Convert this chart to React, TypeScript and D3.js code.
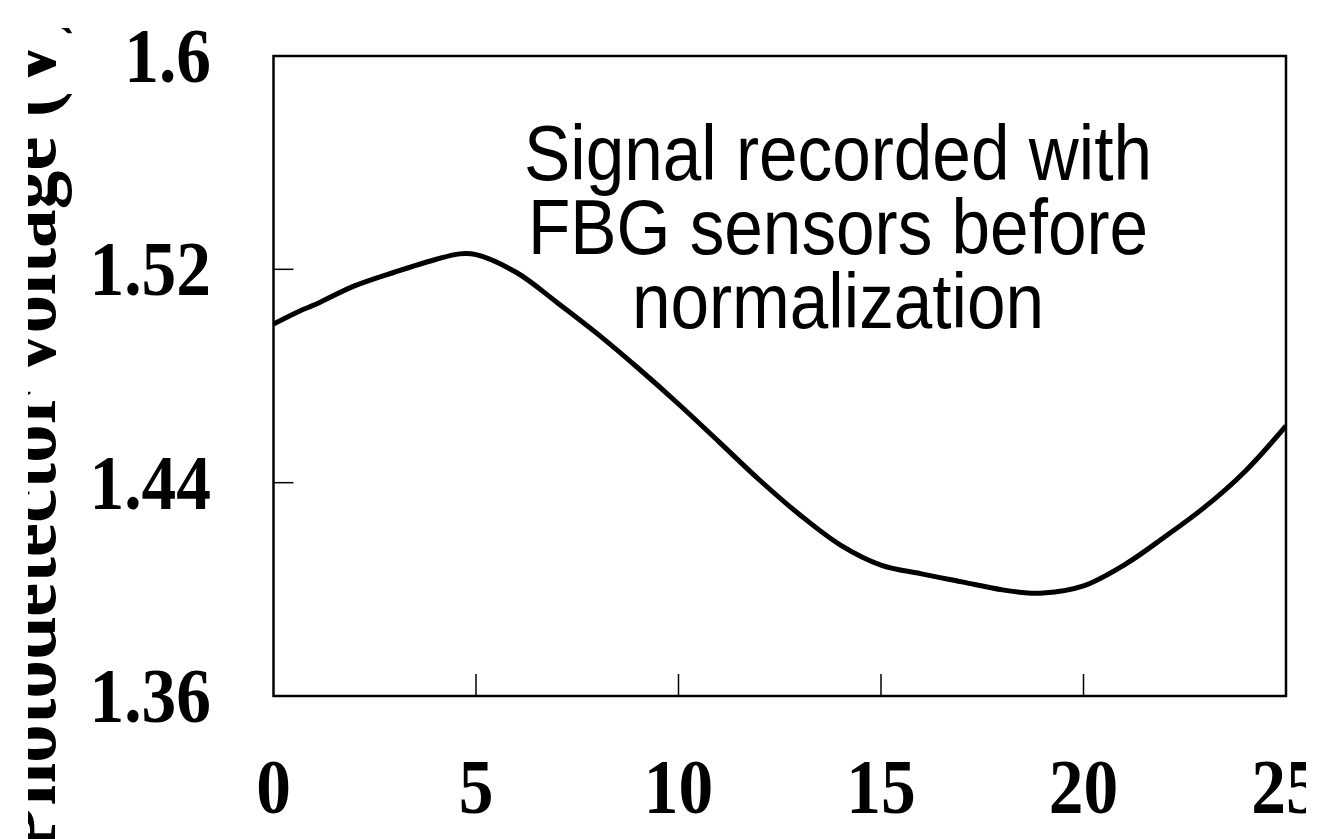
import React from "react";
import * as d3 from "d3";

const timeValues: number[] = [0, 0.65, 1, 2, 3, 4, 4.6, 5, 6, 7, 8, 9, 10, 11, 12, 13, 14, 15, 16, 17, 18, 18.5, 19, 20, 21, 22, 23, 24, 25];
const voltageValues: number[] = [1.4995, 1.5044, 1.5066, 1.5138, 1.519, 1.5237, 1.5258, 1.5255, 1.5188, 1.5076, 1.4958, 1.483, 1.4695, 1.4553, 1.441, 1.4279, 1.4166, 1.4091, 1.4058, 1.4028, 1.3998, 1.3988, 1.3986, 1.4013, 1.4091, 1.4196, 1.4309, 1.4444, 1.4613];
const xTicks: number[] = [0, 5, 10, 15, 20, 25];
const yTicks: number[] = [1.36, 1.44, 1.52, 1.6];
const yTickLabels: string[] = ["1.36", "1.44", "1.52", "1.6"];
const yTitle = "Photodetector voltage (V)";
const annotationLines: string[] = ["Signal recorded with", "FBG sensors before", "normalization"];

const W = 1318;
const H = 839;
const left = 273.5;
const right = 1286;
const top = 56;
const bottom = 696;

export default function App() {
  const x = d3.scaleLinear().domain([0, 25]).range([left, right]);
  const y = d3.scaleLinear().domain([1.36, 1.6]).range([bottom, top]);
  const pts: [number, number][] = timeValues.map((t, i) => [t, voltageValues[i]]);
  const line = d3
    .line<[number, number]>()
    .x((d) => x(d[0]))
    .y((d) => y(d[1]))
    .curve(d3.curveCatmullRom.alpha(0.5));
  const serif = "'Liberation Serif', 'Times New Roman', serif";
  const sans = "'Liberation Sans', Arial, sans-serif";
  const sx = 0.89;
  return (
    <svg width={W} height={H} style={{ position: "absolute", left: 0, top: 0, background: "#fff" }}>
      <defs>
        <clipPath id="titleClip">
          <rect x={28} y={28} width={200} height={H} />
        </clipPath>
        <clipPath id="pageClip">
          <rect x={0} y={0} width={1306} height={H} />
        </clipPath>
        <clipPath id="plotClip">
          <rect x={left} y={top} width={right - left} height={bottom - top} />
        </clipPath>
      </defs>
      <rect x={0} y={0} width={W} height={H} fill="#fff" />
      {/* y axis title */}
      <g clipPath="url(#titleClip)">
        <text
          transform={`translate(55, 853) rotate(-90)`}
          textAnchor="start"
          textLength={843}
          lengthAdjust="spacingAndGlyphs"
          fontFamily={serif}
          fontWeight="bold"
          fontSize={80}
          fill="#000"
        >
          {yTitle}
        </text>
      </g>
      {/* data line */}
      <path d={line(pts) || ""} fill="none" stroke="#000" strokeWidth={5} strokeLinejoin="round" clipPath="url(#plotClip)" />
      {/* ticks */}
      {yTicks.slice(1, -1).map((v) => (
        <line key={"yt" + v} x1={left} x2={left + 20} y1={y(v)} y2={y(v)} stroke="#000" strokeWidth={1.5} />
      ))}
      {xTicks.slice(1, -1).map((v) => (
        <line key={"xt" + v} x1={x(v)} x2={x(v)} y1={bottom} y2={bottom - 22} stroke="#000" strokeWidth={1.5} />
      ))}
      {/* frame */}
      <rect x={left} y={top} width={right - left} height={bottom - top} fill="none" stroke="#000" strokeWidth={2.5} />
      {/* y tick labels */}
      {yTicks.map((v, i) => (
        <text
          key={"yl" + v}
          transform={`translate(211, ${y(v) + 26}) scale(${sx}, 1)`}
          textAnchor="end"
          fontFamily={serif}
          fontWeight="bold"
          fontSize={78}
          fill="#000"
        >
          {yTickLabels[i]}
        </text>
      ))}
      {/* x tick labels */}
      <g clipPath="url(#pageClip)">
        {xTicks.map((v) => (
          <text
            key={"xl" + v}
            transform={`translate(${x(v)}, 813) scale(${sx}, 1)`}
            textAnchor="middle"
            fontFamily={serif}
            fontWeight="bold"
            fontSize={78}
            fill="#000"
          >
            {v}
          </text>
        ))}
      </g>
      {/* annotation */}
      {annotationLines.map((s, i) => (
        <text
          key={"an" + i}
          transform={`translate(838, ${180 + i * 74}) scale(0.9, 1)`}
          textAnchor="middle"
          fontFamily={sans}
          fontSize={77}
          fill="#000"
        >
          {s}
        </text>
      ))}
    </svg>
  );
}
